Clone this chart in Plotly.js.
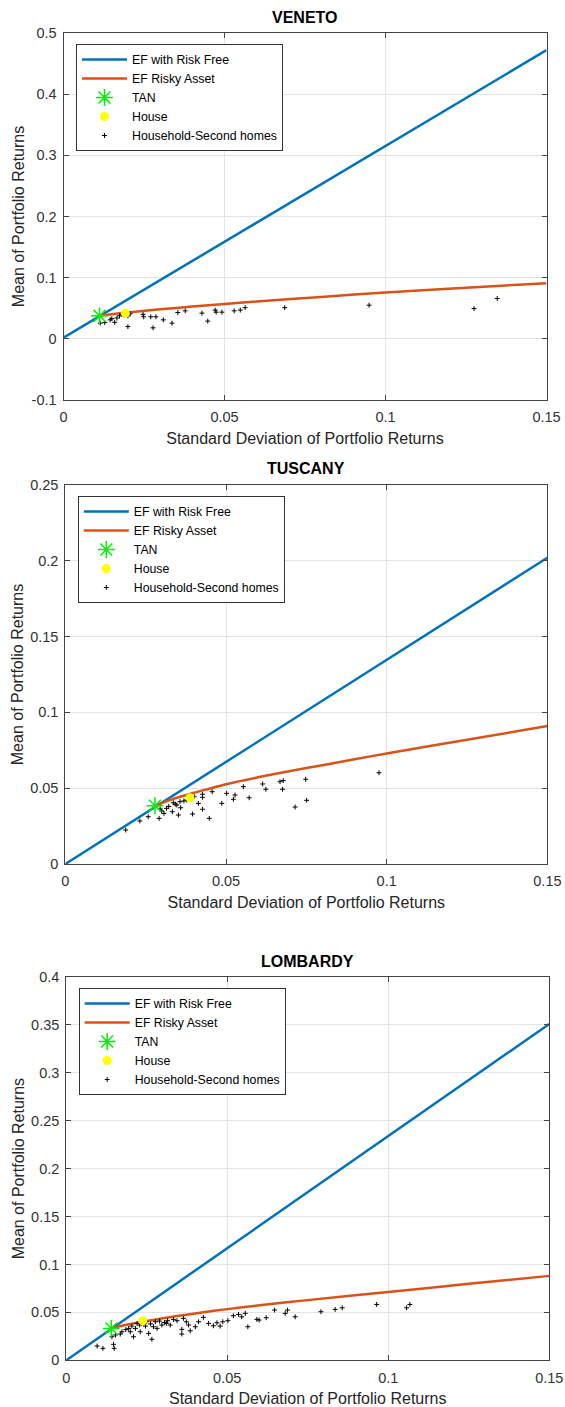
<!DOCTYPE html>
<html>
<head>
<meta charset="utf-8">
<script src="https://cdn.plot.ly/plotly-3.0.1.min.js"></script>
<style>html,body{margin:0;padding:0;background:#fff;}#chart{width:565px;height:1407px;}</style>
</head>
<body>
<div id="chart"></div>
<script>
// ---------- DATA ----------
const panelTitles = ["VENETO", "TUSCANY", "LOMBARDY"];
const seriesNames = ["EF with Risk Free", "EF Risky Asset", "TAN", "House", "Household-Second homes"];
const xTickVals = [0, 0.05, 0.1, 0.15];
const xTickText = ["0", "0.05", "0.1", "0.15"];
const venetoYTickVals = [-0.1, 0, 0.1, 0.2, 0.3, 0.4, 0.5];
const venetoYTickText = ["-0.1", "0", "0.1", "0.2", "0.3", "0.4", "0.5"];
const tuscanyYTickVals = [0, 0.05, 0.1, 0.15, 0.2, 0.25];
const tuscanyYTickText = ["0", "0.05", "0.1", "0.15", "0.2", "0.25"];
const lombardyYTickVals = [0, 0.05, 0.1, 0.15, 0.2, 0.25, 0.3, 0.35, 0.4];
const lombardyYTickText = ["0", "0.05", "0.1", "0.15", "0.2", "0.25", "0.3", "0.35", "0.4"];

// VENETO
const venetoRfX = [0, 0.15];
const venetoRfY = [0.002, 0.472];
const venetoRiskyX = [0.0112, 0.015, 0.02, 0.03, 0.04, 0.05, 0.06, 0.08, 0.10, 0.125, 0.15];
const venetoRiskyY = [0.0376, 0.0403, 0.0432, 0.0482, 0.0527, 0.057, 0.061, 0.0685, 0.0757, 0.0835, 0.091];
const venetoTanX = [0.0112];
const venetoTanY = [0.0376];
const venetoHouseX = [0.0192];
const venetoHouseY = [0.042];
const venetoHhX = [0.0114, 0.0128, 0.0145, 0.0159, 0.0166, 0.0174, 0.0181, 0.0200, 0.0200, 0.0207, 0.0247, 0.0249, 0.0271, 0.0287, 0.0278, 0.0310, 0.0337, 0.0355, 0.0378, 0.0430, 0.0448, 0.0471, 0.0474, 0.0492, 0.0530, 0.0549, 0.0564, 0.0687, 0.0949, 0.1275, 0.1347, 0.0150, 0.0188];
const venetoHhY = [0.0256, 0.0267, 0.0310, 0.0270, 0.0340, 0.0376, 0.0400, 0.0376, 0.0200, 0.0410, 0.0400, 0.0360, 0.0360, 0.0360, 0.0180, 0.0310, 0.0256, 0.0430, 0.0458, 0.0420, 0.0290, 0.0470, 0.0436, 0.0436, 0.0458, 0.0470, 0.0510, 0.0510, 0.0550, 0.0495, 0.0659, 0.0330, 0.0390];

// TUSCANY
const tuscanyRfX = [0, 0.15];
const tuscanyRfY = [0, 0.202];
const tuscanyRiskyX = [0.0279, 0.030, 0.033, 0.036, 0.04, 0.045, 0.05, 0.06, 0.07, 0.08, 0.09, 0.1, 0.125, 0.15];
const tuscanyRiskyY = [0.0385, 0.0402, 0.0425, 0.0445, 0.0470, 0.0498, 0.0526, 0.0572, 0.0613, 0.0652, 0.0691, 0.0729, 0.0820, 0.091];
const tuscanyTanX = [0.0279];
const tuscanyTanY = [0.0385];
const tuscanyHouseX = [0.0388];
const tuscanyHouseY = [0.0437];
const tuscanyHhX = [0.0188, 0.0232, 0.0258, 0.0292, 0.0295, 0.0307, 0.0315, 0.0333, 0.0336, 0.0347, 0.0352, 0.0357, 0.0359, 0.0369, 0.0378, 0.0396, 0.0401, 0.0414, 0.0427, 0.0427, 0.0448, 0.0457, 0.0487, 0.0502, 0.0523, 0.0528, 0.0554, 0.0572, 0.0614, 0.0624, 0.0668, 0.0678, 0.0676, 0.0715, 0.0748, 0.0751, 0.0976, 0.0300, 0.0322, 0.0342, 0.0427];
const tuscanyHhY = [0.0224, 0.0284, 0.0312, 0.0301, 0.0363, 0.0334, 0.0367, 0.0345, 0.0404, 0.0389, 0.0323, 0.0411, 0.0371, 0.0416, 0.0422, 0.0330, 0.0444, 0.0400, 0.0460, 0.0361, 0.0301, 0.0477, 0.0400, 0.0466, 0.0427, 0.0455, 0.0510, 0.0437, 0.0528, 0.0493, 0.0543, 0.0550, 0.0493, 0.0376, 0.0559, 0.0420, 0.0602, 0.0350, 0.0380, 0.0395, 0.0440];

// LOMBARDY
const lombardyRfX = [0, 0.15];
const lombardyRfY = [0, 0.351];
const lombardyRiskyX = [0.014, 0.017, 0.02, 0.025, 0.03, 0.035, 0.04, 0.05, 0.06, 0.075, 0.1, 0.125, 0.15];
const lombardyRiskyY = [0.0333, 0.0358, 0.0379, 0.0410, 0.0438, 0.0464, 0.0489, 0.0534, 0.0574, 0.0628, 0.0713, 0.0798, 0.0881];
const lombardyTanX = [0.014];
const lombardyTanY = [0.0333];
const lombardyHouseX = [0.0238];
const lombardyHouseY = [0.0413];
const lombardyHhX = [0.0096, 0.0114, 0.0147, 0.0149, 0.0142, 0.0153, 0.0168, 0.0173, 0.0194, 0.0199, 0.0204, 0.0209, 0.0215, 0.0220, 0.0230, 0.0228, 0.0246, 0.0249, 0.0256, 0.0266, 0.0271, 0.0277, 0.0282, 0.0290, 0.0297, 0.0311, 0.0315, 0.0323, 0.0333, 0.0344, 0.0359, 0.0359, 0.0364, 0.0373, 0.0380, 0.0385, 0.0401, 0.0411, 0.0426, 0.0442, 0.0457, 0.0468, 0.0478, 0.0486, 0.0502, 0.0519, 0.0535, 0.0545, 0.0556, 0.0564, 0.0592, 0.0599, 0.0621, 0.0647, 0.0680, 0.0687, 0.0711, 0.0791, 0.0835, 0.0857, 0.0964, 0.1057, 0.1067, 0.0185, 0.0262, 0.0305];
const lombardyHhY = [0.0149, 0.0125, 0.0167, 0.0125, 0.0246, 0.0264, 0.0274, 0.0298, 0.0333, 0.0298, 0.0357, 0.0246, 0.0333, 0.0385, 0.0298, 0.0368, 0.0357, 0.0402, 0.0281, 0.0219, 0.0350, 0.0402, 0.0333, 0.0409, 0.0368, 0.0385, 0.0413, 0.0368, 0.0427, 0.0413, 0.0323, 0.0274, 0.0438, 0.0402, 0.0368, 0.0308, 0.0350, 0.0402, 0.0448, 0.0385, 0.0360, 0.0392, 0.0357, 0.0402, 0.0413, 0.0465, 0.0479, 0.0454, 0.0490, 0.0350, 0.0427, 0.0420, 0.0444, 0.0524, 0.0490, 0.0524, 0.0454, 0.0507, 0.0531, 0.0548, 0.0583, 0.0548, 0.0583, 0.0320, 0.0380, 0.0395];

// ---------- STYLE ----------
const FONT = "Liberation Sans, Arial, Helvetica, sans-serif";
const BLUE = "#0072BD", ORANGE = "#D95319", GREEN = "#00f000";
const W = 565, H = 1407;

const panels = [
  {title: panelTitles[0], rfX: venetoRfX, rfY: venetoRfY, rkX: venetoRiskyX, rkY: venetoRiskyY,
   tanX: venetoTanX, tanY: venetoTanY, hoX: venetoHouseX, hoY: venetoHouseY, hhX: venetoHhX, hhY: venetoHhY,
   yRange: [-0.1, 0.5], yTv: venetoYTickVals, yTt: venetoYTickText,
   px: [63.5, 546.5], py: [33, 400]},
  {title: panelTitles[1], rfX: tuscanyRfX, rfY: tuscanyRfY, rkX: tuscanyRiskyX, rkY: tuscanyRiskyY,
   tanX: tuscanyTanX, tanY: tuscanyTanY, hoX: tuscanyHouseX, hoY: tuscanyHouseY, hhX: tuscanyHhX, hhY: tuscanyHhY,
   yRange: [0, 0.25], yTv: tuscanyYTickVals, yTt: tuscanyYTickText,
   px: [65.3, 547.4], py: [485, 864]},
  {title: panelTitles[2], rfX: lombardyRfX, rfY: lombardyRfY, rkX: lombardyRiskyX, rkY: lombardyRiskyY,
   tanX: lombardyTanX, tanY: lombardyTanY, hoX: lombardyHouseX, hoY: lombardyHouseY, hhX: lombardyHhX, hhY: lombardyHhY,
   yRange: [0, 0.4], yTv: lombardyYTickVals, yTt: lombardyYTickText,
   px: [66.2, 549.3], py: [977, 1360.3]}
];

const data = [];
const layout = {
  width: W, height: H,
  margin: {l: 0, r: 0, t: 0, b: 0, pad: 0},
  paper_bgcolor: "#fff", plot_bgcolor: "#fff",
  font: {family: FONT, color: "#262626"},
  annotations: []
};

panels.forEach((p, i) => {
  const n = i === 0 ? "" : String(i + 1);
  const xa = "x" + n, ya = "y" + n, lg = "legend" + n;
  data.push({x: p.rfX, y: p.rfY, xaxis: xa, yaxis: ya, legend: lg, name: seriesNames[0], mode: "lines",
             line: {color: BLUE, width: 2.5}, legendrank: 1});
  data.push({x: p.rkX, y: p.rkY, xaxis: xa, yaxis: ya, legend: lg, name: seriesNames[1], mode: "lines",
             line: {color: ORANGE, width: 2.5, shape: "spline", smoothing: 0.8}, legendrank: 2});
  data.push({x: p.hhX, y: p.hhY, xaxis: xa, yaxis: ya, legend: lg, name: seriesNames[4], mode: "markers",
             marker: {symbol: "cross-thin-open", size: 3.5, line: {color: "#000", width: 1}, color: "#000"}, legendrank: 5});
  data.push({x: p.hoX, y: p.hoY, xaxis: xa, yaxis: ya, legend: lg, name: seriesNames[3], mode: "markers",
             marker: {symbol: "circle", size: 9, color: "#ffff00", line: {width: 0}}, legendrank: 4});
  data.push({x: p.tanX, y: p.tanY, xaxis: xa, yaxis: ya, legend: lg, name: seriesNames[2], mode: "markers",
             marker: {symbol: "asterisk-open", size: 14, color: GREEN, line: {color: GREEN, width: 1.5}}, legendrank: 3});

  const axCommon = {
    showline: true, linecolor: "#444", linewidth: 1, mirror: "ticks",
    ticks: "inside", ticklen: 5, tickcolor: "#444",
    showgrid: true, gridcolor: "#e4e4e4", gridwidth: 1, zeroline: false,
    tickfont: {family: FONT, size: 14.5, color: "#333"}
  };
  layout["xaxis" + n] = Object.assign({}, axCommon, {
    domain: [p.px[0] / W, p.px[1] / W], anchor: ya, range: [0, 0.15],
    tickmode: "array", tickvals: xTickVals, ticktext: xTickText, ticklabelstandoff: 4,
    title: {text: "Standard Deviation of Portfolio Returns", font: {family: FONT, size: 16, color: "#262626"}, standoff: 8}
  });
  layout["yaxis" + n] = Object.assign({}, axCommon, {
    domain: [1 - p.py[1] / H, 1 - p.py[0] / H], anchor: xa, range: p.yRange,
    tickmode: "array", tickvals: p.yTv, ticktext: p.yTt, ticklabelstandoff: 3,
    title: {text: "Mean of Portfolio Returns", font: {family: FONT, size: 16, color: "#262626"}, standoff: 2}
  });
  layout[lg] = {
    x: (p.px[0] + 12.5) / W, y: 1 - (p.py[0] + 11) / H, xanchor: "left", yanchor: "top",
    xref: "paper", yref: "paper",
    bgcolor: "#fff", bordercolor: "#333", borderwidth: 1,
    font: {family: FONT, size: 12.3, color: "#000"},
    itemwidth: 45, traceorder: "normal", tracegroupgap: 0
  };
  layout.annotations.push({
    text: "<b>" + p.title + "</b>", xref: "paper", yref: "paper",
    x: ((p.px[0] + p.px[1]) / 2) / W, y: 1 - (p.py[0] - 16) / H,
    xanchor: "center", yanchor: "middle", showarrow: false,
    font: {family: FONT, size: 16, color: "#000"}
  });
});

Plotly.newPlot("chart", data, layout, {displayModeBar: false, staticPlot: true});
</script>
</body>
</html>
